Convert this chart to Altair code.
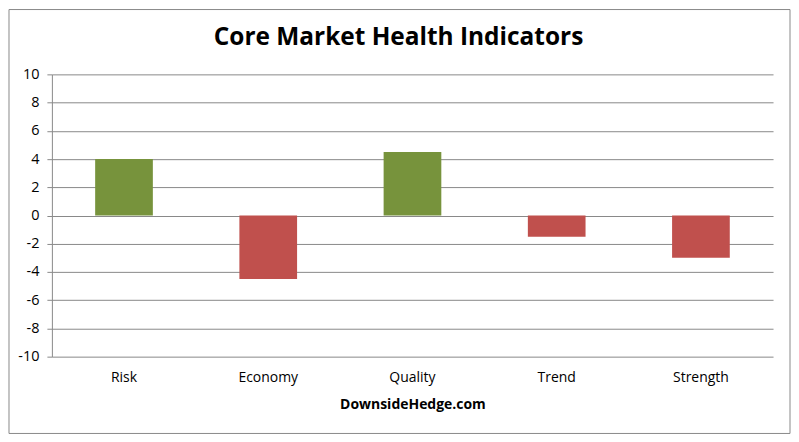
import altair as alt
import pandas as pd

categories = ["Risk", "Economy", "Quality", "Trend", "Strength"]
values = [4.0, -4.5, 4.5, -1.5, -3.0]
colors = ["#77933C" if v >= 0 else "#C0504D" for v in values]
title_text = "Core Market Health Indicators"
y_ticks = [-10, -8, -6, -4, -2, 0, 2, 4, 6, 8, 10]

df = pd.DataFrame({"cat": categories, "val": values, "color": colors})

W, H = 723, 283
PL, PT, PR, PB = 44, 66, 18, 78

base = alt.Chart(df)

bars = base.mark_bar().encode(
    x=alt.X("cat:N", sort=categories,
            scale=alt.Scale(paddingInner=0.6, paddingOuter=0.3),
            axis=alt.Axis(title="DownsideHedge.com", labelAngle=0, ticks=False,
                          domain=False, labelPadding=14, labelFontSize=14,
                          labelFont="Open Sans", labelColor="#000000",
                          titleFont="Open Sans", titleFontSize=14, titleFontWeight="bold",
                          titleColor="#000000", titlePadding=13, grid=False)),
    y=alt.Y("val:Q", scale=alt.Scale(domain=[-10, 10], nice=False),
            axis=alt.Axis(title=None, values=y_ticks, tickSize=5,
                          labelOverlap=False, labelExpr="'' + datum.value",
                          tickColor="#898989", domainColor="#898989",
                          gridColor="#898989", grid=True, labelFontSize=14.5,
                          labelFont="Open Sans", labelColor="#000000", labelPadding=8)),
    color=alt.Color("color:N", scale=None),
)

border = alt.Chart(alt.Data(values=[{"a": 1}])).mark_rect(
    fill=None, stroke="#898989", strokeWidth=1
).encode(
    x=alt.value(-PL + 1), x2=alt.value(W + PR - 1),
    y=alt.value(-PT + 1), y2=alt.value(H + PB - 1),
)

title = alt.Chart(alt.Data(values=[{"t": title_text}])).mark_text(
    font="Open Sans", fontSize=24.5, fontWeight="bold", color="#000000",
    align="center", baseline="middle"
).encode(
    text="t:N", x=alt.value(W / 2 - 14), y=alt.value(-36)
)

chart = alt.layer(border, bars, title).properties(
    width=W, height=H,
    padding={"left": PL, "top": PT, "right": PR, "bottom": PB},
    autosize=alt.AutoSizeParams(type="none"),
).configure(background="#FFFFFF").configure_view(stroke=None)

chart.save("out.html", embed_options={"renderer": "svg", "actions": False})
